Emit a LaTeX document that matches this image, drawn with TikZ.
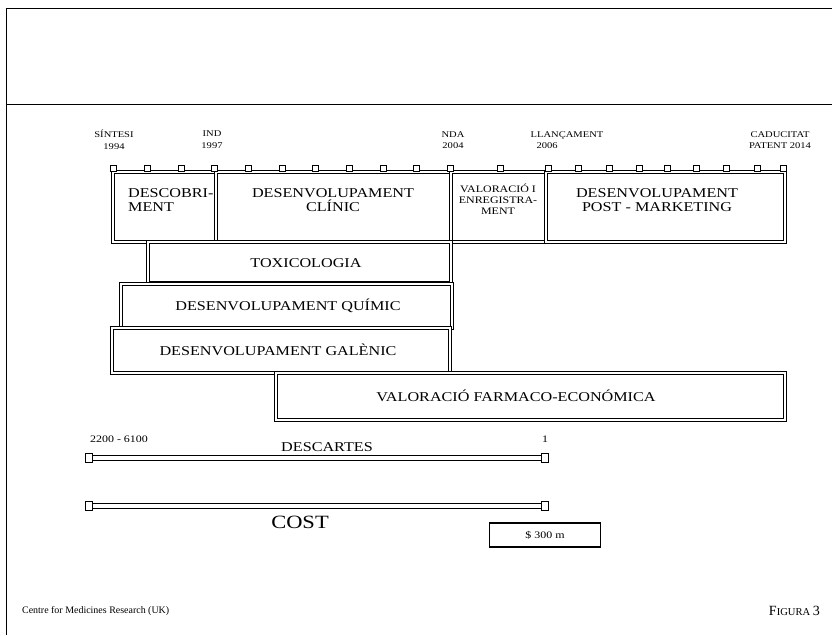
\documentclass[tikz,border=0pt]{standalone}
\usepackage{fontspec}
\setmainfont{Liberation Serif}
\newfontfamily\widefont[FakeStretch=1.2]{Liberation Serif}
\usetikzlibrary{positioning, fit}

\tikzset{
  phase/.style={draw, double, double distance=1.3pt, line width=0.9pt, inner sep=0pt},
  phaselabel/.style={font=\widefont\fontsize{11.5}{12}\selectfont, align=center},
  milestone/.style={font=\widefont\fontsize{7.5}{10}\selectfont, align=center, inner sep=0pt},
  tickbox/.style={draw, fill=white, line width=0.7pt, minimum width=5pt, minimum height=5pt, inner sep=0pt},
  endbox/.style={tickbox, minimum width=5.5pt, minimum height=7pt},
  dropline/.style={draw, double, double distance=3.6pt, line width=0.7pt},
}

\begin{document}
\begin{tikzpicture}[x=0.03cm, y=-0.03cm]
    \useasboundingbox (0,0) rectangle (832,635);

    % Page frame
    \draw[line width=0.8pt] (6,8) -- (832,8);
    \draw[line width=0.8pt] (6,104) -- (832,104);
    \draw[line width=0.8pt] (6,8) -- (6,635);

    % Milestones
    \node[milestone] (sintesi) at (114,140) {SÍNTESI\\1994};
    \node[milestone] (ind) at (212,140) {IND\\1997};
    \node[milestone] (nda) at (453,140) {NDA\\2004};
    \node[milestone, align=left] (llancament) at (567,140) {LLANÇAMENT\\\hspace*{5pt}2006};
    \node[milestone] (caducitat) at (780,140) {CADUCITAT\\PATENT 2014};

    % Phases
    \node[phase, fit={(113,172) (216,242)}] (descob) {};
    \node[phase, fit={(216,172) (451,242)}] (clinic) {};
    \node[phase, fit={(451,172) (546,242)}] (registre) {};
    \node[phase, fit={(546,172) (785,242)}] (postmk) {};
    \node[phase, fit={(148,242) (451,283)}] (toxic) {};
    \node[phase, fit={(121,284) (452,328)}] (quimic) {};
    \node[phase, fit={(112,328) (450,373)}] (galenic) {};
    \node[phase, fit={(276,373) (785,420)}] (farmaco) {};

    % Year ticks
    \foreach \t in {113,147,181,214,248,282,315,349,383,416,450,500,548,578,609,639,667,696,726,757,783}
        \node[tickbox] (tick\t) at (\t,168) {};

    % Phase labels
    \node[phaselabel, align=left, anchor=west] (descobtxt) at (124,200) {DESCOBRI-\\MENT};
    \node[phaselabel] (clinictxt) at (333,200) {DESENVOLUPAMENT\\CLÍNIC};
    \node[phaselabel, font=\widefont\fontsize{8.5}{9.5}\selectfont] (registretxt) at (498,199) {VALORACIÓ I\\ENREGISTRA-\\MENT};
    \node[phaselabel] (postmktxt) at (657,200) {DESENVOLUPAMENT\\POST - MARKETING};
    \node[phaselabel] (toxictxt) at (306,263) {TOXICOLOGIA};
    \node[phaselabel] (quimictxt) at (288,306) {DESENVOLUPAMENT QUÍMIC};
    \node[phaselabel] (galenictxt) at (278,350) {DESENVOLUPAMENT GALÈNIC};
    \node[phaselabel] (farmacotxt) at (516,396) {VALORACIÓ FARMACO-ECONÓMICA};

    % Descartes
    \node[endbox] (descA) at (89,458) {};
    \node[endbox] (descB) at (545,458) {};
    \path[dropline] (descA.east) -- (descB.west);
    \node[font=\widefont\fontsize{11.5}{12}\selectfont] (descartes) at (327,447) {DESCARTES};
    \node[milestone, font=\widefont\fontsize{8.5}{10}\selectfont] (compostos) at (119,439) {2200 - 6100};
    \node[milestone, font=\widefont\fontsize{8.5}{10}\selectfont] (unic) at (545,439) {1};

    % Cost
    \node[endbox] (costA) at (89,506) {};
    \node[endbox] (costB) at (545,506) {};
    \path[dropline] (costA.east) -- (costB.west);
    \node[font=\widefont\fontsize{16}{18}\selectfont] (cost) at (300,522) {COST};
    \node[draw, line width=1.1pt, minimum width=3.33cm, minimum height=0.72cm, font=\widefont\fontsize{8.5}{10}\selectfont] (import) at (545,535) {\$ 300 m};

    % Footer
    \node[anchor=west, font=\fontsize{8.5}{10}\selectfont] (font) at (18,611) {Centre for Medicines Research (UK)};
    \node[anchor=east] (figura) at (824,611) {\fontsize{12}{14}\selectfont F\fontsize{9}{10}\selectfont IGURA \fontsize{12}{14}\selectfont 3};
\end{tikzpicture}
\end{document}
